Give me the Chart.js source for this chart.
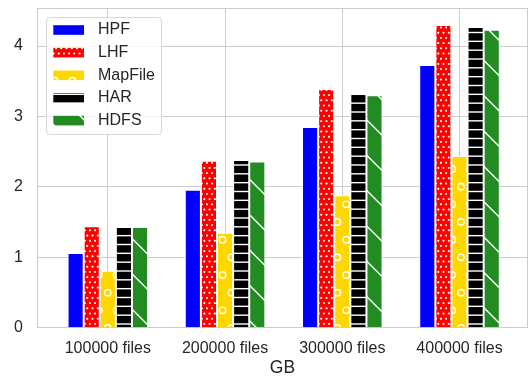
<!DOCTYPE html>
<html>
<head>
<meta charset="utf-8">
<script src="https://cdn.jsdelivr.net/npm/chart.js@4/dist/chart.umd.min.js"></script>
<style>
  html, body { margin: 0; padding: 0; background: #ffffff; }
  canvas { display: block; }
</style>
</head>
<body>
<canvas id="c" width="528" height="377"></canvas>
<script>
// Size in GB for each batch of small files, per storage scheme
const categories = ['100000 files', '200000 files', '300000 files', '400000 files'];
const seriesNames = ['HPF', 'LHF', 'MapFile', 'HAR', 'HDFS'];
const hpf     = [1.06, 1.96, 2.85, 3.73];
const lhf     = [1.44, 2.37, 3.39, 4.30];
const mapFile = [0.81, 1.35, 1.88, 2.44];
const har     = [1.43, 2.38, 3.33, 4.27];
const hdfs    = [1.43, 2.36, 3.30, 4.23];
const yTicks  = [0, 1, 2, 3, 4];
const xLabel  = 'GB';

const FONT = "'Liberation Sans', Arial, sans-serif";
const TEXT = '#262626';
const GRID = '#cccccc';

const canvas = document.getElementById('c');
const ctx = canvas.getContext('2d');

// Build a repeating fill: solid background plus white hatch marks
function makePattern(w, h, bg, draw, matrix) {
  const c = document.createElement('canvas');
  c.width = w; c.height = h;
  const g = c.getContext('2d');
  g.fillStyle = bg; g.fillRect(0, 0, w, h);
  g.fillStyle = '#ffffff'; g.strokeStyle = '#ffffff';
  draw(g, w, h);
  const p = ctx.createPattern(c, 'repeat');
  if (matrix) p.setTransform(matrix);
  return p;
}

// staggered white dots on red
const dotFill = makePattern(20, 20, '#ff0000', (g) => {
  [[0,0],[10,0],[20,0],[5,10],[15,10],[0,20],[10,20],[20,20]].forEach(([x, y]) => {
    g.beginPath(); g.arc(x, y, 2, 0, Math.PI * 2); g.fill();
  });
}, new DOMMatrix().translate(1.5, 1.5).scale(0.52));

// staggered white rings on gold
const ringFill = makePattern(106, 106, '#ffd700', (g) => {
  const s = 106 / 6;
  g.lineWidth = 1.4;
  for (let j = -1; j <= 7; j++) {
    for (let i = -1; i <= 7; i++) {
      const x = (Math.abs(j) % 2 === 0 ? 1.7 : 1.7 + s / 2) + i * s;
      const y = 10 + j * s;
      g.beginPath(); g.arc(x, y, 3.2, 0, Math.PI * 2); g.stroke();
    }
  }
});

// horizontal white rules on black
const ruleFill = makePattern(106, 106, '#000000', (g) => {
  const s = 106 / 12;
  for (let k = -1; k <= 12; k++) g.fillRect(0, 6 + k * s - 0.7, 106, 1.4);
});

// back-diagonal white lines on green
const diagFill = makePattern(106, 106, '#228b22', (g) => {
  const s = 106 / 3;
  g.lineWidth = 1.4;
  for (let k = -7; k <= 7; k++) {
    const c = 0.5 + k * s;
    g.beginPath(); g.moveTo(-20, -20 + c); g.lineTo(126, 126 + c); g.stroke();
  }
});

const seriesValues = [hpf, lhf, mapFile, har, hdfs];
const seriesFills = ['#0000ff', dotFill, ringFill, ruleFill, diagFill];

// light grey box around the plotting area
const frame = {
  id: 'frame',
  beforeDatasetsDraw(chart) {
    const { left, top, right, bottom } = chart.chartArea;
    const a = v => Math.floor(v) + 0.5;
    const g = chart.ctx;
    g.save();
    g.strokeStyle = GRID; g.lineWidth = 1;
    g.strokeRect(a(left), a(top), a(right) - a(left), a(bottom) - a(top));
    g.restore();
  }
};

// legend in the upper-left corner with a rounded translucent box
const boxLegend = {
  id: 'boxLegend',
  afterDatasetsDraw(chart) {
    const g = chart.ctx;
    g.save();
    g.beginPath();
    if (g.roundRect) g.roundRect(46.5, 17.5, 115, 117, 4); else g.rect(46.5, 17.5, 115, 117);
    g.fillStyle = 'rgba(255,255,255,0.8)'; g.fill();
    g.lineWidth = 1; g.strokeStyle = 'rgba(204,204,204,0.8)'; g.stroke();
    g.font = `16px ${FONT}`;
    g.textBaseline = 'middle';
    chart.data.datasets.forEach((ds, i) => {
      const cy = 30 + i * 22.65;
      g.fillStyle = ds.backgroundColor;
      g.fillRect(53.3, cy - 4.8, 30.7, 9.6);
      g.fillStyle = TEXT;
      g.fillText(ds.label, 98, cy);
    });
    g.restore();
  }
};

new Chart(canvas, {
  type: 'bar',
  data: {
    datasets: seriesNames.map((name, k) => ({
      label: name,
      data: seriesValues[k].map((v, i) => ({ x: i, y: v })),
      backgroundColor: seriesFills[k],
      borderColor: '#ffffff',
      borderWidth: 1,
      borderSkipped: 'start',
      categoryPercentage: 0.687,
      barPercentage: 1
    }))
  },
  options: {
    responsive: false,
    animation: false,
    devicePixelRatio: 1,
    events: [],
    layout: { padding: { top: 8, right: 0.5, left: 0, bottom: 0 } },
    plugins: { legend: { display: false }, tooltip: { enabled: false } },
    scales: {
      x: {
        type: 'linear',
        min: -0.6,
        max: 3.58,
        offset: false,
        afterBuildTicks: s => { s.ticks = categories.map((_, i) => ({ value: i })); },
        afterFit: s => { s.height = 49.3; s.paddingLeft = 0; s.paddingRight = 0; },
        ticks: {
          callback: v => categories[v],
          font: { family: FONT, size: 16 },
          color: TEXT,
          padding: 11,
          maxRotation: 0,
          autoSkip: false
        },
        grid: { color: GRID, lineWidth: 1, drawTicks: false, offset: false },
        border: { display: false },
        title: {
          display: true,
          text: xLabel,
          font: { family: FONT, size: 17.5, lineHeight: 1 },
          color: TEXT,
          padding: { top: 0, bottom: 0 }
        }
      },
      y: {
        min: 0,
        max: 4.54,
        afterBuildTicks: s => { s.ticks = yTicks.map(v => ({ value: v })); },
        afterFit: s => { s.width = 37.5; s.paddingTop = 8; s.paddingBottom = 0; },
        ticks: {
          callback: v => String(v),
          font: { family: FONT, size: 16 },
          color: TEXT,
          padding: 14.5
        },
        grid: { color: GRID, lineWidth: 1, drawTicks: false },
        border: { display: false }
      }
    }
  },
  plugins: [frame, boxLegend]
});
</script>
</body>
</html>
